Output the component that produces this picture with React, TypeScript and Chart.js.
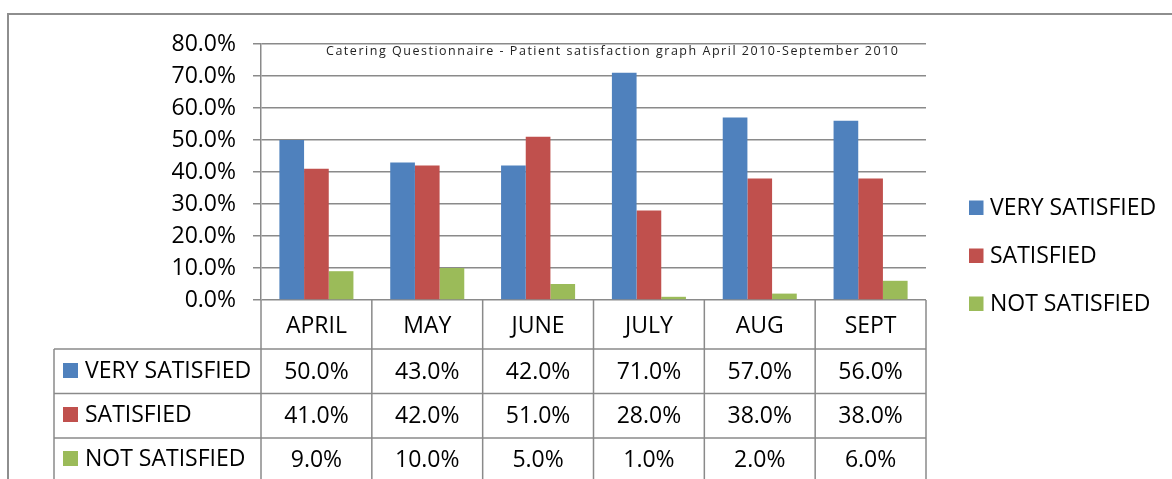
import React, { useEffect, useRef } from 'react';
import { Chart, registerables } from 'chart.js';

Chart.register(...registerables);

const months = ['APRIL', 'MAY', 'JUNE', 'JULY', 'AUG', 'SEPT'];
const verySatisfied = [50, 43, 42, 71, 57, 56];
const satisfied = [41, 42, 51, 28, 38, 38];
const notSatisfied = [9, 10, 5, 1, 2, 6];
const seriesNames = ['VERY SATISFIED', 'SATISFIED', 'NOT SATISFIED'];
const seriesColors = ['#4F81BD', '#C0504D', '#9BBB59'];
const yMin = 0;
const yMax = 80;
const yStep = 10;
const chartTitle = 'Catering Questionnaire - Patient satisfaction graph April 2010-September 2010';

const FONT = '"Open Sans", "DejaVu Sans", sans-serif';
const LINE = '#8a8a8a';

const fmt = (v: number) => v.toFixed(1) + '%';

const overlayPlugin = {
  id: 'overlay',
  afterDraw(chart: any) {
    const ctx: CanvasRenderingContext2D = chart.ctx;
    const area = chart.chartArea;
    const n = months.length;
    const colW = (area.right - area.left) / n;
    const allSeries = [verySatisfied, satisfied, notSatisfied];
    ctx.save();

    // outer frame
    ctx.strokeStyle = '#8e8e8e';
    ctx.lineWidth = 2;
    ctx.beginPath();
    ctx.moveTo(8, 490);
    ctx.lineTo(8, 14);
    ctx.lineTo(1180, 14);
    ctx.stroke();

    // title
    ctx.fillStyle = '#222';
    ctx.font = `12.5px ${FONT}`;
    ctx.textAlign = 'left';
    ctx.textBaseline = 'alphabetic';
    (ctx as any).letterSpacing = '0px';
    const w0 = ctx.measureText(chartTitle).width;
    const targetW = 572;
    const ls = Math.max(0, (targetW - w0) / (chartTitle.length - 1));
    (ctx as any).letterSpacing = `${ls}px`;
    ctx.fillText(chartTitle, 326, 55);
    (ctx as any).letterSpacing = '0px';

    // table
    const top = area.bottom;
    const headerH = 49;
    const rowH = 44.5;
    const bottom = top + headerH + rowH * 3;
    const leftX = 54;
    ctx.strokeStyle = LINE;
    ctx.lineWidth = 1.5;
    ctx.beginPath();
    for (let i = 0; i <= n; i++) {
      const x = area.left + colW * i;
      ctx.moveTo(x, top);
      ctx.lineTo(x, bottom);
    }
    ctx.moveTo(leftX, top + headerH);
    ctx.lineTo(leftX, bottom);
    for (let r = 0; r <= 3; r++) {
      const y = top + headerH + rowH * r;
      ctx.moveTo(leftX, y);
      ctx.lineTo(area.right, y);
    }
    ctx.stroke();

    ctx.fillStyle = '#000';
    ctx.font = `23px ${FONT}`;
    ctx.textAlign = 'center';
    ctx.textBaseline = 'alphabetic';
    const headBase = top + 33;
    for (let i = 0; i < n; i++) {
      const cx = area.left + colW * (i + 0.5);
      ctx.fillText(months[i], cx, headBase);
    }
    const rowBases = [379, 423, 467];
    for (let s = 0; s < 3; s++) {
      const b = rowBases[s];
      for (let i = 0; i < n; i++) {
        const cx = area.left + colW * (i + 0.5);
        ctx.fillStyle = '#000';
        ctx.textAlign = 'center';
        ctx.fillText(fmt(allSeries[s][i]), cx, b);
      }
      ctx.fillStyle = seriesColors[s];
      ctx.fillRect(63, b - 16, 15, 15);
      ctx.fillStyle = '#000';
      ctx.textAlign = 'left';
      ctx.fillText(seriesNames[s], 85, b - 1);
    }

    // legend
    const legBases = [215, 263, 311];
    for (let s = 0; s < 3; s++) {
      const b = legBases[s];
      ctx.fillStyle = seriesColors[s];
      ctx.fillRect(969, b - 14.5, 14.5, 14.5);
      ctx.fillStyle = '#000';
      ctx.textAlign = 'left';
      ctx.fillText(seriesNames[s], 990, b);
    }
    ctx.restore();
  },
};

export default function App() {
  const canvasRef = useRef<HTMLCanvasElement | null>(null);

  useEffect(() => {
    const canvas = canvasRef.current;
    if (!canvas) return;
    const chart = new Chart(canvas, {
      type: 'bar',
      data: {
        labels: months,
        datasets: [verySatisfied, satisfied, notSatisfied].map((d, i) => ({
          label: seriesNames[i],
          data: d,
          backgroundColor: seriesColors[i],
          borderWidth: 0,
          categoryPercentage: 0.668,
          barPercentage: 1,
        })),
      },
      options: {
        responsive: false,
        animation: false,
        devicePixelRatio: 1,
        layout: { padding: { left: 0, top: 44, right: 246, bottom: 179 } },
        plugins: {
          legend: { display: false },
          title: { display: false },
          tooltip: { enabled: false },
        },
        scales: {
          x: { display: false },
          y: {
            min: yMin,
            max: yMax,
            ticks: {
              stepSize: yStep,
              color: '#000',
              padding: 17,
              font: { family: FONT, size: 23 },
              callback: (v: any) => fmt(Number(v)),
            },
            grid: { color: LINE, lineWidth: 1.5, tickLength: 8 },
            border: { color: LINE, width: 1.5 },
            afterFit: (scale: any) => {
              scale.width = 261;
            },
          },
        },
      },
      plugins: [overlayPlugin],
    });
    let alive = true;
    if ((document as any).fonts) {
      Promise.all([
        (document as any).fonts.load(`23px "Open Sans"`),
        (document as any).fonts.load(`12.5px "Open Sans"`),
      ]).then(() => {
        if (alive) chart.update();
      }).catch(() => {});
    }
    return () => {
      alive = false;
      chart.destroy();
    };
  }, []);

  return (
    <div style={{ position: 'absolute', left: 0, top: 0, width: 1172, height: 479, background: '#fff' }}>
      <canvas ref={canvasRef} width={1172} height={479} style={{ width: 1172, height: 479, display: 'block' }} />
    </div>
  );
}
